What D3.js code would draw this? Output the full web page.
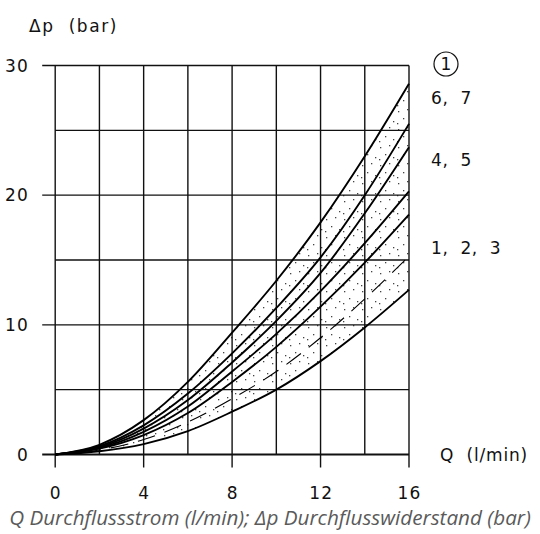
<!DOCTYPE html>
<html><head><meta charset="utf-8">
<script src="https://cdn.jsdelivr.net/npm/d3@7"></script>
<style>
html,body{margin:0;padding:0;background:#fff;}
text{white-space:pre;}
</style>
</head><body>
<svg id="chart" width="540" height="534"></svg>
<script>
// Flow rate Q (l/min) sample points
const flow = [0, 2, 4, 6, 8, 10, 12, 14, 16];
// Pressure drop curves (bar), top to bottom
const curve67a = [0, 0.75, 2.65, 5.6, 9.4, 13.4, 17.9, 23.0, 28.6];
const curve67b = [0, 0.64, 2.25, 4.7, 7.8, 11.3, 15.2, 20.0, 25.5];
const curve45a = [0, 0.57, 2.0, 4.2, 7.1, 10.3, 14.0, 18.6, 23.7];
const curve45b = [0, 0.5, 1.75, 3.7, 6.4, 9.3, 12.6, 16.3, 20.3];
const curve123a = [0, 0.45, 1.5, 3.2, 5.6, 8.3, 11.4, 14.8, 18.5];
const curveDashed = [0, 0.35, 1.15, 2.5, 4.3, 6.4, 9.0, 12.0, 15.3];
const curve123b = [0, 0.25, 0.8, 1.8, 3.3, 5.0, 7.2, 9.8, 12.7];

const xTickLabels = [0, 4, 8, 12, 16];
const yTickLabels = [0, 10, 20, 30];
const xGrid = [2, 4, 6, 8, 10, 12, 14];
const yGrid = [5, 10, 15, 20, 25];
const groupLabels = ["6,  7", "4,  5", "1,  2,  3"];
const groupLabelValues = [27.5, 22.7, 15.9];

const svg = d3.select("#chart");
const x = d3.scaleLinear().domain([0, 16]).range([55.2, 409]);
const y = d3.scaleLinear().domain([0, 30]).range([454.5, 65.5]);
const ext = 13;
const font = "'DejaVu Sans', sans-serif";
const ls = 1.2;

// stipple pattern
const defs = svg.append("defs");
const pat = defs.append("pattern").attr("id", "dots").attr("patternUnits", "userSpaceOnUse")
  .attr("width", 18).attr("height", 18);
[[2,3],[11,1],[7,10],[15,13],[1,15]].forEach(p => {
  pat.append("rect").attr("x", p[0]).attr("y", p[1]).attr("width", 1.3).attr("height", 1.3).attr("fill", "#444");
});

const series = [curve67a, curve67b, curve45a, curve45b, curve123a, curveDashed, curve123b];
const pts = s => s.map((v, i) => [flow[i], v]);

// shaded band between top and bottom curve
const area = d3.area().x(d => x(d[0])).y0(d => y(d[2])).y1(d => y(d[1])).curve(d3.curveMonotoneX);
svg.append("path")
  .datum(flow.map((q, i) => [q, curve67a[i], curve123b[i]]))
  .attr("d", area).attr("fill", "url(#dots)");

// grid
const g = svg.append("g").attr("stroke", "#111").attr("stroke-width", 1.4).attr("fill", "none");
xGrid.forEach(v => {
  const major = xTickLabels.includes(v);
  g.append("line").attr("x1", x(v)).attr("x2", x(v)).attr("y1", y(30)).attr("y2", y(0) + (major ? ext : 0));
});
yGrid.forEach(v => {
  const major = yTickLabels.includes(v);
  g.append("line").attr("y1", y(v)).attr("y2", y(v)).attr("x1", x(0) - (major ? ext : 0)).attr("x2", x(16));
});
// frame / axes
g.append("line").attr("x1", x(0)).attr("x2", x(0)).attr("y1", y(30)).attr("y2", y(0) + ext);
g.append("line").attr("x1", x(16)).attr("x2", x(16)).attr("y1", y(30)).attr("y2", y(0) + ext);
g.append("line").attr("x1", x(0) - ext).attr("x2", x(16)).attr("y1", y(30)).attr("y2", y(30));
g.append("line").attr("x1", x(0) - ext).attr("x2", x(16)).attr("y1", y(0)).attr("y2", y(0)).attr("stroke-width", 1.8);

// curves
const line = d3.line().x(d => x(d[0])).y(d => y(d[1])).curve(d3.curveMonotoneX);
series.forEach(s => {
  const dashed = s === curveDashed;
  svg.append("path").datum(pts(s)).attr("d", line).attr("fill", "none")
    .attr("stroke", "#000").attr("stroke-width", dashed ? 1.1 : 1.9)
    .attr("stroke-dasharray", dashed ? "18,10" : null);
});

// tick labels
svg.append("g").selectAll("text").data(xTickLabels).join("text")
  .attr("x", d => x(d) + ls / 2).attr("y", 499).attr("text-anchor", "middle").attr("letter-spacing", ls)
  .attr("font-family", font).attr("font-size", 17).attr("fill", "#111").text(d => d);
svg.append("g").selectAll("text").data(yTickLabels).join("text")
  .attr("x", 29).attr("y", d => y(d) + 6).attr("text-anchor", "end").attr("letter-spacing", ls)
  .attr("font-family", font).attr("font-size", 17).attr("fill", "#111").text(d => d);

// axis titles
svg.append("text").attr("x", 29).attr("y", 32).attr("font-family", font).attr("font-size", 17)
  .attr("letter-spacing", 1.6).attr("fill", "#111").text("Δp  (bar)");
svg.append("text").attr("x", 440).attr("y", y(0) + 6).attr("font-family", font).attr("font-size", 17)
  .attr("letter-spacing", 0.8).attr("fill", "#111").text("Q  (l/min)");

// group labels
svg.append("circle").attr("cx", 446).attr("cy", 64).attr("r", 12).attr("fill", "none").attr("stroke", "#111").attr("stroke-width", 1.2);
svg.append("text").attr("x", 446).attr("y", 70).attr("text-anchor", "middle").attr("font-family", font)
  .attr("font-size", 17).attr("fill", "#111").text("1");
svg.append("g").selectAll("text").data(groupLabels).join("text")
  .attr("x", 431).attr("y", (d, i) => y(groupLabelValues[i]) + 6).attr("letter-spacing", 0.6)
  .attr("font-family", font).attr("font-size", 17).attr("fill", "#111").text(d => d);

// caption
const cap = svg.append("text").attr("x", 270).attr("y", 525).attr("text-anchor", "middle")
  .attr("font-family", "'Open Sans', sans-serif").attr("font-style", "italic").attr("font-size", 17)
  .attr("fill", "#5a5a5a").text("Q Durchflussstrom (l/min); Δp Durchflusswiderstand (bar)");
const w = cap.node().getComputedTextLength();
cap.attr("font-size", 17 * 522 / w);
</script>
</body></html>
